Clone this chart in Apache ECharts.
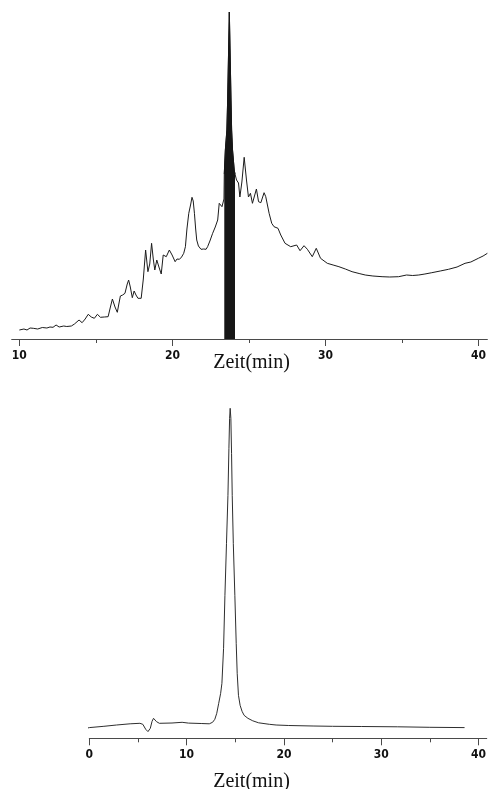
<!DOCTYPE html>
<html>
<head>
<meta charset="utf-8">
<title>Chromatogramme</title>
<script src="https://cdn.jsdelivr.net/npm/echarts@6/dist/echarts.min.js"></script>
<style>
  html, body { margin: 0; padding: 0; background: #fff; }
  #chart { width: 489px; height: 789px; }
</style>
</head>
<body>
<div id="chart"></div>
<script>
// Upper trace: retention time (min) and detector signal (arbitrary units)
const topTime = [
  10.0, 10.3, 10.5, 10.7, 10.91, 11.2, 11.5, 11.8, 12.0, 12.2, 12.4, 12.6, 12.9, 13.1, 13.4, 13.6,
  13.9, 14.1, 14.3, 14.5, 14.7, 14.9, 15.1, 15.3, 15.55, 15.8, 15.95, 16.08, 16.25, 16.4, 16.5, 16.6,
  16.75, 16.9, 17.05, 17.14, 17.25, 17.38, 17.5, 17.62, 17.75, 17.96, 18.1, 18.25, 18.4, 18.52, 18.64,
  18.75, 18.85, 18.98, 19.12, 19.27, 19.4, 19.6, 19.8, 19.98, 20.18, 20.3, 20.46, 20.6, 20.74, 20.85,
  20.95, 21.07, 21.2, 21.28, 21.36, 21.44, 21.52, 21.59, 21.7, 21.87, 22.05, 22.2, 22.3, 22.45, 22.63,
  22.8, 22.96, 23.06, 23.15, 23.24, 23.37, 23.39, 23.46, 23.56, 23.61, 23.72, 23.83, 23.87, 23.93,
  24.04, 24.09, 24.19, 24.32, 24.41, 24.54, 24.69, 24.84, 24.97, 25.1, 25.23, 25.36, 25.49, 25.63,
  25.78, 25.99, 26.1, 26.32, 26.49, 26.64, 26.9, 27.08, 27.36, 27.73, 28.12, 28.34, 28.6, 28.82,
  29.14, 29.4, 29.68, 30.12, 30.5, 30.88, 31.3, 31.74, 32.2, 32.6, 33.1, 33.7, 34.2, 34.78, 35.3,
  35.7, 36.1, 36.5, 36.95, 37.5, 38.04, 38.6, 39.12, 39.5, 39.99, 40.3, 40.58
];
const topSignal = [
  9, 10, 9, 11, 10.7, 10, 11.5, 11, 12, 11.7, 14, 12, 13, 12.5, 13, 15,
  19, 16.3, 20, 24.7, 22, 20.7, 24.7, 21.7, 22, 22.3, 32, 40, 32, 26.7, 35, 43,
  44, 45.7, 55, 59, 52, 41.3, 48, 44, 40.7, 40.7, 60, 89, 67.3, 75, 95.7,
  80, 69, 79, 72, 65, 84, 82.3, 89, 84, 77.3, 80, 79.7, 82, 85.7, 92.3,
  110, 125.7, 135, 141.7, 138, 125.7, 110, 99, 93, 89.7, 90, 89.7, 92.3, 98, 105.7,
  112, 119, 135.7, 134, 132.3, 140, 165, 189, 209, 239, 327, 239, 209, 189,
  169, 165, 159, 156, 142, 157, 181.7, 159, 142, 145.7, 135.7, 135, 150, 137.3,
  136.3, 146.3, 142.3, 125.7, 115.7, 112.3, 110.7, 104, 95.7, 92.3, 94, 88.3, 93.3, 89.7,
  82.3, 90.7, 80.7, 75.7, 74, 72.3, 70, 67.3, 65.5, 64, 63, 62.3, 62, 62.3, 64,
  63.5, 64, 65, 66.3, 68, 69.7, 72, 75.7, 77, 80.7, 83, 85.7
];
// Collected fraction (shaded) on the upper trace, in minutes
const fractionStart = 23.39;
const fractionEnd = 24.09;

// Lower trace: re-injection of the collected fraction
const bottomTime = [
  -0.7, 0, 1.5, 2.8, 4.2, 5.2, 5.5, 5.8, 6.03, 6.27, 6.45, 6.6, 6.75, 6.9, 7.2, 8.5, 9.54, 10.2,
  11.5, 12.33, 12.67, 12.9, 13.1, 13.3, 13.5, 13.63, 13.8, 13.94, 14.1, 14.25, 14.35, 14.42, 14.48,
  14.55, 14.62, 14.69, 14.8, 14.96, 15.1, 15.2, 15.33, 15.5, 15.7, 15.91, 16.3, 16.8, 17.4, 18.5,
  19.2, 20.5, 23, 25, 28, 31.7, 35, 38.57
];
const bottomSignal = [
  9, 10.7, 12, 13.3, 14.5, 15, 14, 9, 6.7, 10, 17, 20, 18, 16.7, 15, 15.3, 16, 15.2,
  14.8, 14.5, 16, 19, 25, 35, 45, 55, 90, 143, 195, 243, 290, 320, 330,
  320, 285, 243, 195, 143, 95, 65, 43, 33, 27, 23, 20, 17.5, 15.5, 14,
  13.3, 12.8, 12.3, 12, 11.8, 11.5, 11, 10.7
];

// Axis ticks and labels
const topMajorTicks = [10, 20, 30, 40];
const topMinorTicks = [15, 25, 35];
const bottomMajorTicks = [0, 10, 20, 30, 40];
const bottomMinorTicks = [5, 15, 25, 35];
const axisTitle = 'Zeit(min)';

const pairs = (xs, ys) => xs.map((x, i) => [x, ys[i]]);
const topData = pairs(topTime, topSignal);
const fractionData = topData.filter(p => p[0] >= fractionStart && p[0] <= fractionEnd);
const bottomData = pairs(bottomTime, bottomSignal);

const axisColor = '#4a4a4a';
const labelStyle = {
  fontFamily: '"Liberation Sans Narrow", "DejaVu Sans Condensed", sans-serif',
  fontWeight: 'bold',
  fontSize: 12,
  color: '#111'
};

function majorAxis(gridIndex, min, max, ticks) {
  return {
    type: 'value', gridIndex, min, max, position: 'bottom',
    axisLine: { show: true, onZero: false, lineStyle: { color: axisColor, width: 1 } },
    axisTick: { show: true, length: 7, customValues: ticks, lineStyle: { color: axisColor, width: 1 } },
    axisLabel: Object.assign({ show: true, margin: 11, customValues: ticks }, labelStyle),
    splitLine: { show: false }
  };
}
function minorAxis(gridIndex, min, max, ticks) {
  return {
    type: 'value', gridIndex, min, max, position: 'bottom',
    axisLine: { show: false, onZero: false },
    axisTick: { show: true, length: 4, customValues: ticks, lineStyle: { color: axisColor, width: 1 } },
    axisLabel: { show: false },
    splitLine: { show: false }
  };
}
function hiddenY(gridIndex, max) {
  return { type: 'value', gridIndex, min: 0, max, show: false, splitLine: { show: false } };
}

const titleFont = '20px "Liberation Serif", "Times New Roman", serif';

const chart = echarts.init(document.getElementById('chart'), null, { renderer: 'canvas' });
chart.setOption({
  backgroundColor: '#fff',
  animation: false,
  grid: [
    { left: 11.7, right: 0, top: 9, bottom: 450 },
    { left: 89.3, right: 0, top: 400, bottom: 50.7 }
  ],
  xAxis: [
    majorAxis(0, 9.5, 40.58, topMajorTicks),
    minorAxis(0, 9.5, 40.58, topMinorTicks),
    majorAxis(1, 0, 40.85, bottomMajorTicks),
    minorAxis(1, 0, 40.85, bottomMinorTicks)
  ],
  yAxis: [hiddenY(0, 330), hiddenY(1, 338.3)],
  series: [
    {
      type: 'line', xAxisIndex: 0, yAxisIndex: 0, data: topData,
      showSymbol: false, symbol: 'none', smooth: false,
      lineStyle: { color: '#1c1c1c', width: 1 }
    },
    {
      type: 'line', xAxisIndex: 0, yAxisIndex: 0, data: fractionData,
      showSymbol: false, symbol: 'none', smooth: false,
      lineStyle: { color: '#161616', width: 1 },
      areaStyle: { color: '#161616', opacity: 1, origin: 'start' }
    },
    {
      type: 'line', xAxisIndex: 2, yAxisIndex: 1, data: bottomData,
      showSymbol: false, symbol: 'none', smooth: false, clip: false,
      lineStyle: { color: '#2e2e2e', width: 1 }
    }
  ],
  graphic: [
    {
      type: 'text', x: 251.5, y: 363,
      style: { text: axisTitle, font: titleFont, fill: '#111', align: 'center', verticalAlign: 'middle' }
    },
    {
      type: 'text', x: 251.5, y: 782,
      style: { text: axisTitle, font: titleFont, fill: '#111', align: 'center', verticalAlign: 'middle' }
    }
  ]
});
</script>
</body>
</html>
